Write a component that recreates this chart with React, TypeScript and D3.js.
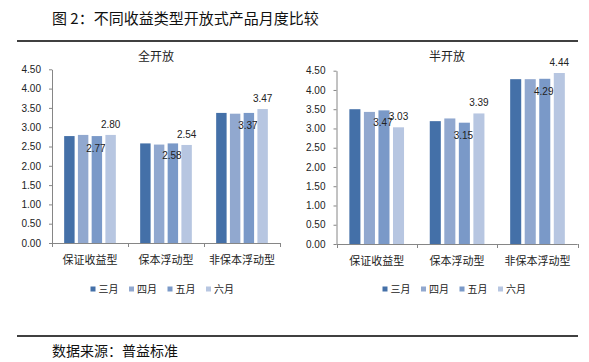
import React, { useEffect, useRef } from "react";
import * as d3 from "d3";

const categories = ["保证收益型", "保本浮动型", "非保本浮动型"];
const months = ["三月", "四月", "五月", "六月"];
const monthColors = ["#4470a8", "#91a8cf", "#7a99c8", "#b7c6e1"];

// 全开放
const fullOpenMar = [2.77, 2.58, 3.37];
const fullOpenApr = [2.8, 2.55, 3.35];
const fullOpenMay = [2.77, 2.58, 3.37];
const fullOpenJun = [2.8, 2.54, 3.47];

// 半开放
const halfOpenMar = [3.5, 3.19, 4.28];
const halfOpenApr = [3.43, 3.26, 4.28];
const halfOpenMay = [3.47, 3.15, 4.29];
const halfOpenJun = [3.03, 3.39, 4.44];

const yTicks = [0, 0.5, 1, 1.5, 2, 2.5, 3, 3.5, 4, 4.5];
const labelledMonths = ["五月", "六月"];

const NUM_FONT = "'Liberation Sans', Arial, sans-serif";
const CJK_FONT = "'Noto Sans CJK SC', 'Noto Sans', sans-serif";

const drawPanel = (svg, opts) => {
  const { title, titleX, left, right, bottom, top, series, legendX } = opts;
  const g = svg.append("g");

  const x0 = d3
    .scaleBand()
    .domain(categories)
    .range([left, right])
    .paddingInner(0.32)
    .paddingOuter(0.16);

  const x1 = d3
    .scaleBand()
    .domain(months)
    .range([0, x0.bandwidth()])
    .paddingInner(0.24);

  const y = d3.scaleLinear().domain([0, 4.5]).range([bottom, top]);

  // title
  g.append("text")
    .attr("x", titleX)
    .attr("y", 61)
    .attr("text-anchor", "middle")
    .style("font-family", CJK_FONT)
    .style("font-size", "12px")
    .style("fill", "#222")
    .text(title);

  // y axis
  const yAxis = g
    .append("g")
    .attr("transform", `translate(${left},0)`)
    .call(
      d3
        .axisLeft(y)
        .tickValues(yTicks)
        .tickFormat(d3.format(".2f"))
        .tickSizeInner(3)
        .tickSizeOuter(0)
        .tickPadding(8)
    );
  yAxis.select(".domain").attr("stroke", "#868686");
  yAxis.selectAll(".tick line").attr("stroke", "#868686");
  yAxis
    .selectAll("text")
    .style("font-family", NUM_FONT)
    .style("font-size", "10px")
    .style("fill", "#222");

  // x axis line + category separators
  g.append("line")
    .attr("x1", left)
    .attr("x2", right)
    .attr("y1", bottom + 0.5)
    .attr("y2", bottom + 0.5)
    .attr("stroke", "#868686");
  const step = x0.step();
  d3.range(categories.length + 1).forEach((i) => {
    const xx = Math.round(left + i * step) + 0.5;
    g.append("line")
      .attr("x1", xx)
      .attr("x2", xx)
      .attr("y1", bottom)
      .attr("y2", bottom + 4)
      .attr("stroke", "#868686");
  });

  g.selectAll(".cat")
    .data(categories)
    .enter()
    .append("text")
    .attr("x", (d) => x0(d) + x0.bandwidth() / 2)
    .attr("y", bottom + 21)
    .attr("text-anchor", "middle")
    .style("font-family", CJK_FONT)
    .style("font-size", "11px")
    .style("fill", "#222")
    .text((d) => d);

  // bars
  months.forEach((m, mi) => {
    const values = series[mi];
    g.append("g")
      .selectAll("rect")
      .data(values)
      .enter()
      .append("rect")
      .attr("x", (d, i) => x0(categories[i]) + x1(m))
      .attr("y", (d) => y(d))
      .attr("width", x1.bandwidth())
      .attr("height", (d) => bottom - y(d))
      .attr("fill", monthColors[mi]);

    if (labelledMonths.includes(m)) {
      const inside = m === "五月";
      g.append("g")
        .selectAll("text")
        .data(values)
        .enter()
        .append("text")
        .attr(
          "x",
          (d, i) => x0(categories[i]) + x1(m) + x1.bandwidth() / 2 - (inside ? 1 : 0)
        )
        .attr("y", (d) => y(d) + (inside ? 16 : -7))
        .attr("text-anchor", "middle")
        .style("font-family", NUM_FONT)
        .style("font-size", "10px")
        .style("fill", "#222")
        .text((d) => d.toFixed(2));
    }
  });

  // legend
  const legend = g
    .append("g")
    .attr("transform", `translate(${legendX},289)`);
  months.forEach((m, i) => {
    const item = legend.append("g").attr("transform", `translate(${i * 38.5},0)`);
    item
      .append("rect")
      .attr("x", 0)
      .attr("y", -2.5)
      .attr("width", 5)
      .attr("height", 5)
      .attr("fill", monthColors[i]);
    item
      .append("text")
      .attr("x", 8)
      .attr("y", 3.5)
      .style("font-family", CJK_FONT)
      .style("font-size", "10px")
      .style("fill", "#222")
      .text(m);
  });
};

const App = () => {
  const svgRef = useRef(null);

  useEffect(() => {
    const svg = d3.select(svgRef.current);
    svg.selectAll("*").remove();

    svg
      .append("rect")
      .attr("width", 589)
      .attr("height", 362)
      .attr("fill", "#fff");

    // page title
    svg
      .append("text")
      .attr("x", 52)
      .attr("y", 24)
      .style("font-family", CJK_FONT)
      .style("font-size", "15px")
      .style("fill", "#111")
      .text("图 2：不同收益类型开放式产品月度比较");

    svg
      .append("line")
      .attr("x1", 17)
      .attr("x2", 578)
      .attr("y1", 41)
      .attr("y2", 41)
      .attr("stroke", "#000")
      .attr("stroke-width", 1.3);

    drawPanel(svg, {
      title: "全开放",
      titleX: 156,
      left: 52,
      right: 280,
      bottom: 243,
      top: 69.3,
      legendX: 90.5,
      series: [fullOpenMar, fullOpenApr, fullOpenMay, fullOpenJun],
    });

    drawPanel(svg, {
      title: "半开放",
      titleX: 447,
      left: 336.5,
      right: 577.7,
      bottom: 244,
      top: 70.7,
      legendX: 382.5,
      series: [halfOpenMar, halfOpenApr, halfOpenMay, halfOpenJun],
    });

    svg
      .append("line")
      .attr("x1", 17)
      .attr("x2", 578)
      .attr("y1", 336)
      .attr("y2", 336)
      .attr("stroke", "#000")
      .attr("stroke-width", 1.3);

    svg
      .append("text")
      .attr("x", 52)
      .attr("y", 356)
      .style("font-family", CJK_FONT)
      .style("font-size", "14px")
      .style("fill", "#111")
      .text("数据来源：普益标准");
  }, []);

  return (
    <svg
      ref={svgRef}
      width={589}
      height={362}
      style={{ position: "absolute", left: 0, top: 0, display: "block" }}
    ></svg>
  );
};

export default App;
